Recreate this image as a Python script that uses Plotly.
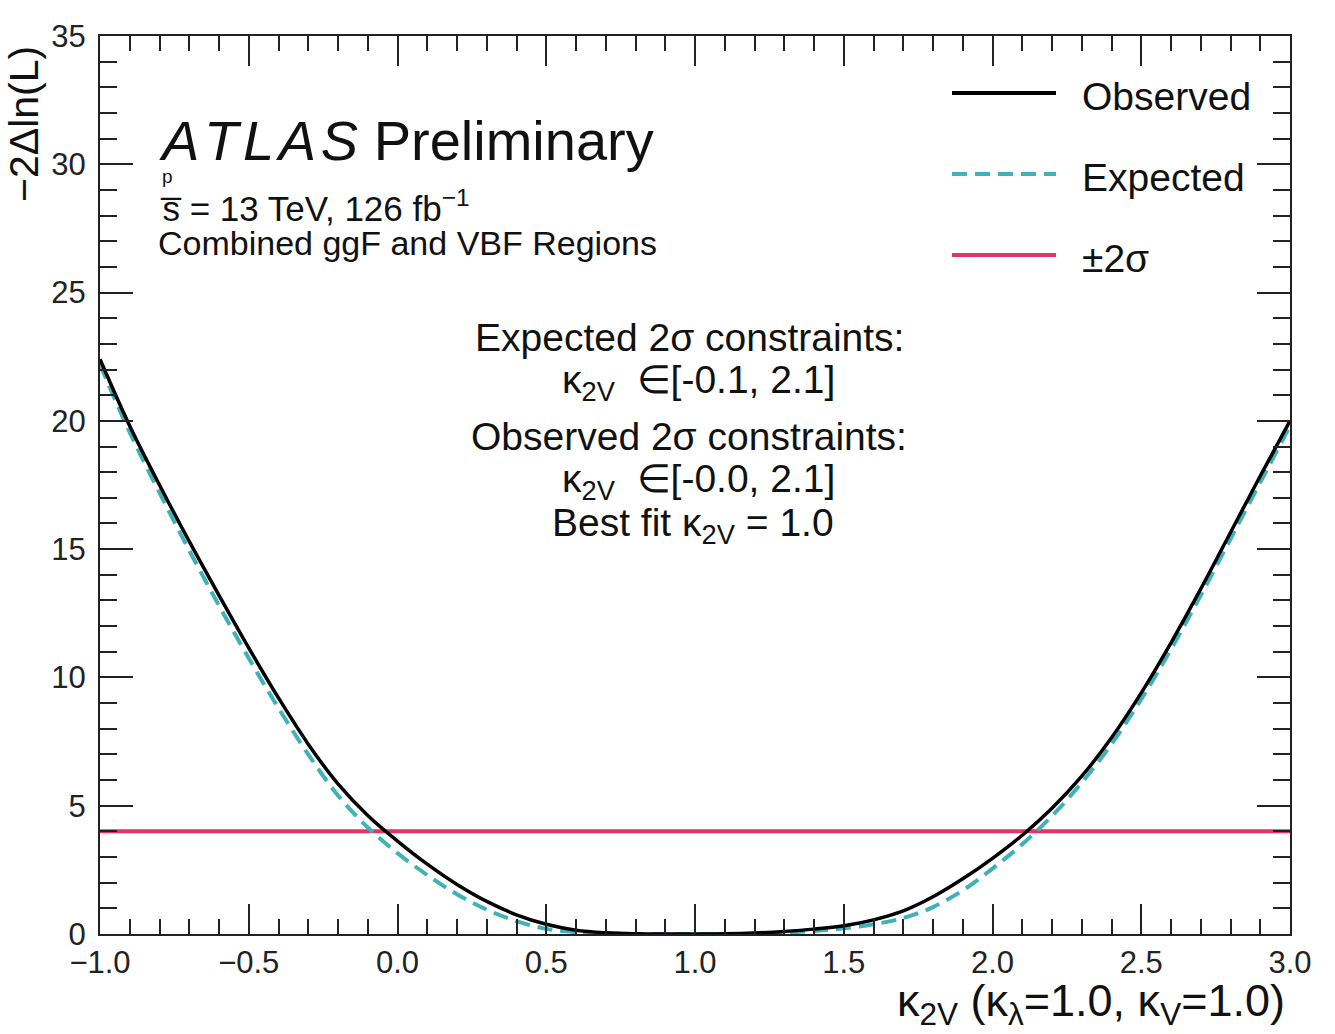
import plotly.graph_objects as go

# ---- data ----
k2v = [-1.0, -0.9, -0.8, -0.7, -0.6, -0.5, -0.4, -0.3, -0.2, -0.1,
       0.0, 0.1, 0.2, 0.3, 0.4, 0.5, 0.6, 0.7, 0.8, 0.9,
       1.0, 1.1, 1.2, 1.3, 1.4, 1.5, 1.6, 1.7, 1.8, 1.9,
       2.0, 2.1, 2.2, 2.3, 2.4, 2.5, 2.6, 2.7, 2.8, 2.9, 3.0]
observed = [22.4, 19.8, 17.5, 15.3, 13.2, 11.15, 9.2, 7.4, 5.85, 4.62,
            3.62, 2.72, 1.93, 1.27, 0.75, 0.38, 0.15, 0.05, 0.01, 0.0,
            0.0, 0.01, 0.04, 0.1, 0.19, 0.32, 0.55, 0.9, 1.45, 2.15,
            2.95, 3.85, 4.9, 6.15, 7.65, 9.4, 11.35, 13.45, 15.65, 17.85, 20.0]
expected = [22.2, 19.55, 17.2, 14.95, 12.8, 10.75, 8.8, 7.0, 5.4, 4.15,
            3.15, 2.3, 1.55, 0.95, 0.5, 0.2, 0.07, 0.02, 0.0, 0.0,
            0.0, 0.0, 0.01, 0.05, 0.12, 0.22, 0.38, 0.62, 1.05, 1.7,
            2.55, 3.5, 4.6, 5.9, 7.4, 9.15, 11.1, 13.2, 15.4, 17.6, 19.8]
sigma2_x = [-1.0, 3.0]
sigma2_level = [4.0, 4.0]

x_ticks = [-1.0, -0.5, 0.0, 0.5, 1.0, 1.5, 2.0, 2.5, 3.0]
y_ticks = [0, 5, 10, 15, 20, 25, 30, 35]

legend_labels = ["Observed", "Expected", "±2σ"]

# ---- styles ----
FONT = "Liberation Sans, Arial, Helvetica, sans-serif"
C_OBS = "#000000"
C_EXP = "#3fb1bb"
C_SIG = "#e6335f"

W, H = 1335, 1034
L, R, T, B = 100, 45, 36, 100
PW, PH = W - L - R, H - T - B


def px(xp):
    return (xp - L) / PW


def py(yp):
    return (H - B - yp) / PH


fig = go.Figure()
fig.add_trace(go.Scatter(x=sigma2_x, y=sigma2_level, mode="lines",
                         line=dict(color=C_SIG, width=4), name=legend_labels[2]))
fig.add_trace(go.Scatter(x=k2v, y=expected, mode="lines",
                         line=dict(color=C_EXP, width=4, dash="15px,8px", shape="spline"),
                         name=legend_labels[1]))
fig.add_trace(go.Scatter(x=k2v, y=observed, mode="lines",
                         line=dict(color=C_OBS, width=3.5, shape="spline"),
                         name=legend_labels[0]))

axis_common = dict(showgrid=False, zeroline=False, showline=True, linecolor="#222",
                   linewidth=2, mirror="ticks", ticks="inside", tickcolor="#222",
                   tickwidth=1.5, tickfont=dict(family=FONT, size=31, color="#222"))

fig.update_xaxes(range=[-1.0, 3.0], tickvals=x_ticks, tickformat=".1f", ticklen=30,
                 minor=dict(dtick=0.1, ticklen=15, ticks="inside", tickcolor="#222",
                            tickwidth=1.5, showgrid=False),
                 **axis_common)
fig.update_yaxes(range=[0, 35], tickvals=y_ticks, ticklen=33, ticklabelstandoff=6,
                 minor=dict(dtick=1, ticklen=17, ticks="inside", tickcolor="#222",
                            tickwidth=1.5, showgrid=False),
                 **axis_common)

ann = []


def text(xp, yp, s, size, xanchor="left", yanchor="middle", angle=0):
    ann.append(dict(x=px(xp), y=py(yp), xref="paper", yref="paper", text=s,
                    showarrow=False, xanchor=xanchor, yanchor=yanchor, textangle=angle,
                    font=dict(family=FONT, size=size, color="#111")))


# ATLAS label block
HS = "\u200a"
text(157, 140, "<i>A" + HS + "T" + HS + "L" + HS + "A" + HS + "S</i> Preliminary", 56)
text(160, 176, "p", 19)
text(158, 206, "s\u0305 = 13 TeV, 126 fb<sup>−1</sup>", 35)
text(156, 243, "Combined ggF and VBF Regions", 34)

# central summary text
text(689, 337, "Expected 2σ constraints:", 39, xanchor="center")
text(698, 382, "κ<sub>2V</sub>  ∈[-0.1, 2.1]", 39, xanchor="center")
text(689, 437, "Observed 2σ constraints:", 39, xanchor="center")
text(698, 482, "κ<sub>2V</sub>  ∈[-0.0, 2.1]", 39, xanchor="center")
text(693, 525, "Best fit κ<sub>2V</sub> = 1.0", 39, xanchor="center")

# axis titles
text(1287, 1003, "κ<sub>2V</sub> (κ<sub>λ</sub>=1.0, κ<sub>V</sub>=1.0)", 45, xanchor="right")
text(24, 124, "−2Δln(L)", 41, xanchor="center", angle=-90)

# manual legend
leg_y = [93, 174, 255]
leg_col = [C_OBS, C_EXP, C_SIG]
leg_dash = ["solid", "15px,8px", "solid"]
shapes = []
for lab, yy, col, d in zip(legend_labels, leg_y, leg_col, leg_dash):
    shapes.append(dict(type="line", xref="paper", yref="paper", x0=px(952), x1=px(1056),
                       y0=py(yy), y1=py(yy), line=dict(color=col, width=4, dash=d)))
    text(1080, yy + 3, lab, 39)

fig.update_layout(width=W, height=H, margin=dict(l=L, r=R, t=T, b=B),
                  paper_bgcolor="white", plot_bgcolor="white", showlegend=False,
                  annotations=ann, shapes=shapes, font=dict(family=FONT))

fig.write_html("out.html")
